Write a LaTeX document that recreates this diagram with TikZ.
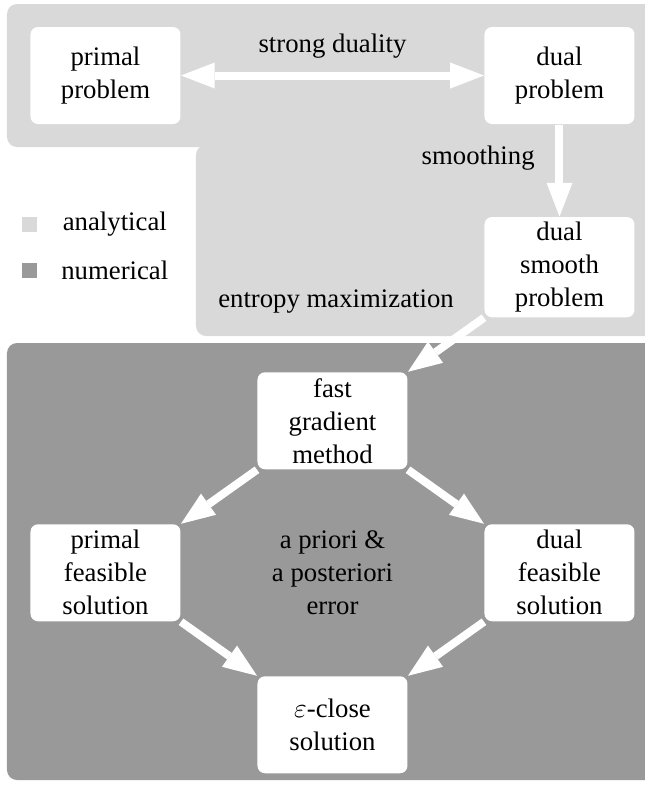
\documentclass[tikz,border=0pt]{standalone}
\usepackage{fontspec}
\setmainfont{Liberation Serif}
\usepackage{amsmath, amssymb}
\usetikzlibrary{positioning, arrows.meta}

\definecolor{analytic}{gray}{0.85}
\definecolor{numeric}{gray}{0.6}

\tikzset{
	block/.style={fill=white, rounded corners=3pt, minimum width=60pt, minimum height=38.8pt, align=center, inner sep=2pt},
	flow/.style={draw=white, line width=3.2pt, ->},
	legbox/.style={minimum size=6pt, inner sep=0pt},
	>={Triangle[length=13.5pt, width=10.4pt, line width=0pt]}
}

\begin{document}
\begin{tikzpicture}[font=\fontsize{10.7}{13.2}\selectfont]
	\useasboundingbox (-42.2pt,30.2pt) rectangle (215.8pt,-284.2pt);
	\clip (-42.2pt,30.2pt) rectangle (215.8pt,-284.2pt);
	
	% regions
	\fill[analytic, rounded corners=4pt] (-39.4pt,28.6pt) rectangle (222pt,-28.6pt);
	\fill[analytic, rounded corners=4pt] (36.2pt,-27.8pt) rectangle (222pt,-104.2pt);
	\fill[numeric, rounded corners=4pt] (-39.4pt,-107pt) rectangle (222pt,-281.8pt);
	
	\node[block] (primal) {primal\\problem};
	\node[block, right=121.2pt of primal] (dual) {dual\\problem};
	\node[block, below=36.8pt of dual] (dsmooth) {dual\\smooth\\problem};
	\node[block, below left=21.6pt and 30.4pt of dsmooth] (fgm) {fast\\gradient\\method};
	\node[block, below left=21.6pt and 30.4pt of fgm] (pfeas) {primal\\feasible\\solution};
	\node[block, below right=21.6pt and 30.4pt of fgm] (dfeas) {dual\\feasible\\solution};
	\node[block, below right=21.6pt and 30.4pt of pfeas] (eclose) {$\varepsilon$-close\\solution};
	
	\node[above=20pt of fgm, xshift=1.4pt] (entropy) {entropy maximization};
	\node[align=center] (error) at (pfeas -| fgm) {a priori \&\\a posteriori\\error};
	
	% legend
	\node[legbox, fill=analytic, below right=36.8pt and -3.2pt of primal.south west] (legana) {};
	\node[right=6.4pt of legana] {analytical};
	\node[legbox, fill=numeric, below=12pt of legana] (legnum) {};
	\node[right=5.8pt of legnum] {numerical};
	
	\draw[flow, <->] (primal) -- node[above=2pt, text=black] {strong duality} (dual);
	\draw[flow] (dual) -- node[pos=0.37, left=5pt, text=black] {smoothing} (dsmooth);
	\draw[flow] (dsmooth.south west) -- (fgm.north east);
	\draw[flow] (fgm.south west) -- (pfeas.north east);
	\draw[flow] (fgm.south east) -- (dfeas.north west);
	\draw[flow] (pfeas.south east) -- (eclose.north west);
	\draw[flow] (dfeas.south west) -- (eclose.north east);
\end{tikzpicture}
\end{document}
